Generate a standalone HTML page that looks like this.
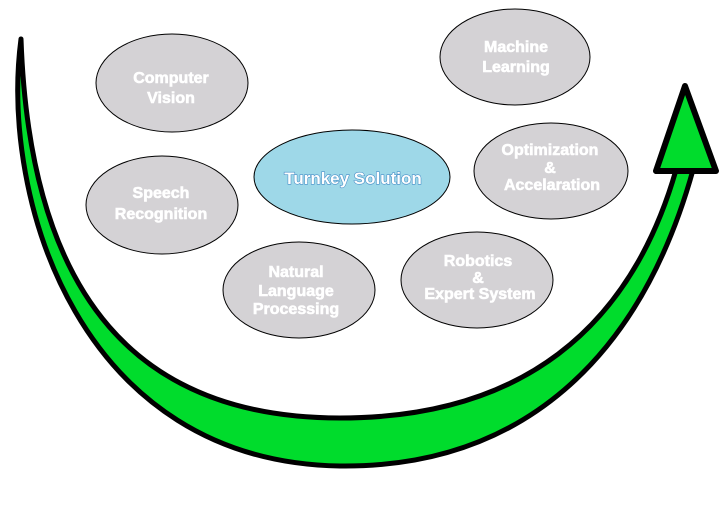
<!DOCTYPE html>
<html><head><style>
body{margin:0;background:#fff;}
svg text{font-family:"Liberation Sans",sans-serif;font-weight:bold;fill:#fff;text-anchor:middle;}
</style></head><body>
<svg width="726" height="504" viewBox="0 0 726 504">
<path d="M21,39 C0,200 80,462 340,466 C520,468 640,360 693,170 L676,170 C630,330 520,418 340,418 C140,418 30,300 21,39 Z" fill="#00dc2c" stroke="#000" stroke-width="5" stroke-linejoin="round"/>
<polygon points="685,86 656,171 716,171" fill="#00dc2c" stroke="#000" stroke-width="6" stroke-linejoin="round"/>
<g stroke="#000" stroke-width="1" fill="#d4d2d5">
<ellipse cx="172" cy="83" rx="76" ry="49"/>
<ellipse cx="162" cy="205" rx="76" ry="49"/>
<ellipse cx="515" cy="57" rx="75" ry="48"/>
<ellipse cx="551" cy="171" rx="77" ry="48"/>
<ellipse cx="299" cy="290" rx="76" ry="48"/>
<ellipse cx="477" cy="280" rx="76" ry="48"/>
<ellipse cx="352" cy="177" rx="98" ry="47" fill="#9ed8e8"/>
</g>
<g font-size="16" style="paint-order:stroke" stroke="#fff" stroke-width="0.6">
<text x="171" y="83">Computer</text><text x="171" y="103">Vision</text>
<text x="161" y="198">Speech</text><text x="161" y="219">Recognition</text>
<text x="516" y="52">Machine</text><text x="516" y="72">Learning</text>
<text x="550" y="155">Optimization</text><text x="550" y="173">&amp;</text><text x="552" y="190">Accelaration</text>
<text x="296" y="277">Natural</text><text x="296" y="296">Language</text><text x="296" y="314">Processing</text>
<text x="478" y="266">Robotics</text><text x="478" y="283">&amp;</text><text x="480" y="299">Expert System</text>
</g>
<text x="353" y="184" font-size="17" style="fill:#fff;paint-order:stroke" stroke="#4a90c8" stroke-width="1.2">Turnkey Solution</text>
</svg>
</body></html>
